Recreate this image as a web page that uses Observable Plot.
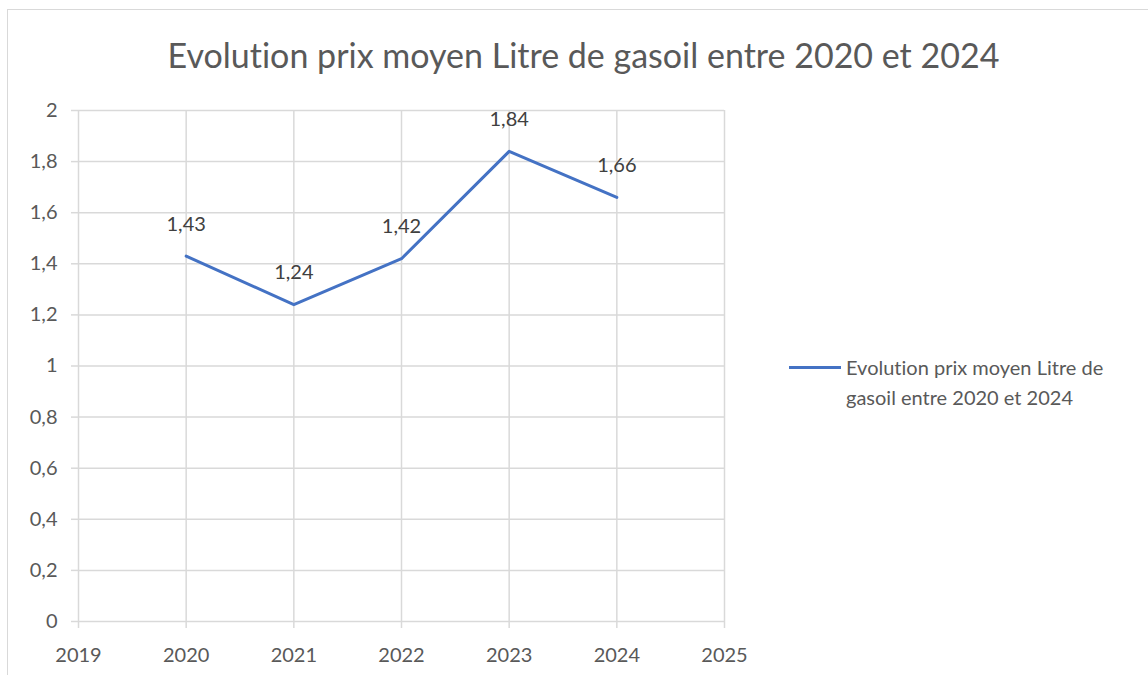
<!DOCTYPE html>
<html>
<head>
<meta charset="utf-8">
<script src="https://cdn.jsdelivr.net/npm/d3@7"></script>
<script src="https://cdn.jsdelivr.net/npm/@observablehq/plot@0.6"></script>
<style>
  html, body { margin: 0; padding: 0; background: #fff; }
  #wrap { position: relative; width: 1148px; height: 675px; overflow: hidden; font-family: Lato, "Open Sans", sans-serif; font-variant-ligatures: none; }
  #frame { position: absolute; left: 7px; top: 9px; width: 1200px; height: 720px; border: 1.5px solid #d9d9d9; box-sizing: border-box; }
  #title { position: absolute; left: 0; width: 1167px; top: 34px; text-align: center; font-size: 34px; color: #595959; line-height: 42px; }
  #legend { position: absolute; left: 789px; top: 352px; color: #595959; font-size: 20px; line-height: 30px; }
  #legend .sw { position: absolute; left: 0; top: 14px; width: 52px; height: 3px; background: #4472C4; }
  #legend .tx { position: absolute; left: 57px; top: 0; white-space: nowrap; }
  #chart { position: absolute; left: 0; top: 0; }
  #chart svg text { font-variant-ligatures: none; }
</style>
</head>
<body>
<div id="wrap">
  <div id="frame"></div>
  <div id="chart"></div>
  <div id="title">Evolution prix moyen Litre de gasoil entre 2020 et 2024</div>
  <div id="legend"><div class="sw"></div><div class="tx">Evolution prix moyen Litre de<br>gasoil entre 2020 et 2024</div></div>
</div>
<script>
const years = [2020, 2021, 2022, 2023, 2024];
const prices = [1.43, 1.24, 1.42, 1.84, 1.66];
const xTicks = [2019, 2020, 2021, 2022, 2023, 2024, 2025];
const yTicks = [0, 0.2, 0.4, 0.6, 0.8, 1, 1.2, 1.4, 1.6, 1.8, 2];

const data = years.map((y, i) => ({year: y, price: prices[i]}));
const fmt = v => String(v).replace(".", ",");

const chart = Plot.plot({
  width: 1148,
  height: 675,
  marginLeft: 78,
  marginRight: 424,
  marginTop: 110,
  marginBottom: 54,
  style: {fontFamily: "Lato, 'Open Sans', sans-serif", fontSize: "20px", color: "#595959", background: "transparent"},
  x: {domain: [2019, 2025]},
  y: {domain: [0, 2]},
  marks: [
    Plot.gridX(xTicks, {stroke: "#d9d9d9", strokeOpacity: 1, strokeWidth: 1.5}),
    Plot.gridY(yTicks, {stroke: "#d9d9d9", strokeOpacity: 1, strokeWidth: 1.5}),
    Plot.axisX({ticks: xTicks, tickFormat: d => String(d), tickSize: 7, tickPadding: 19, stroke: "#d9d9d9", strokeWidth: 1.5, label: null, fill: "#595959"}),
    Plot.axisY({ticks: yTicks, tickFormat: fmt, tickSize: 7, tickPadding: 14, stroke: "#d9d9d9", strokeWidth: 1.5, label: null, fill: "#595959"}),
    Plot.line(data, {x: "year", y: "price", stroke: "#4472C4", strokeWidth: 3}),
    Plot.text(data, {x: "year", y: "price", text: d => fmt(d.price), dy: -32, fill: "#404040", fontSize: 20})
  ]
});
document.getElementById("chart").appendChild(chart);
</script>
</body>
</html>
